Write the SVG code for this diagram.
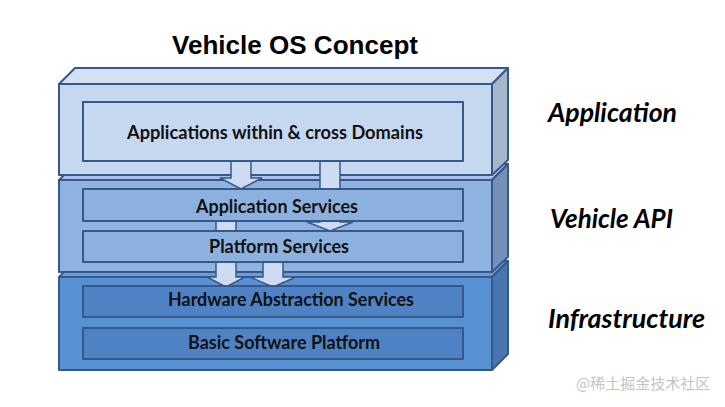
<svg xmlns="http://www.w3.org/2000/svg" width="725" height="407" viewBox="0 0 725 407">
<style>
.edge{stroke:#37598a;stroke-width:2;stroke-linejoin:round}
.arrow{fill:#cddcf1;stroke:#37598a;stroke-width:1.5;stroke-linejoin:miter}
.lbl{font-family:Lato,"Liberation Sans",sans-serif;font-weight:700;font-size:18.5px;fill:#111;text-anchor:middle}
.side{font-family:Lato,"Liberation Sans",sans-serif;font-weight:700;font-style:italic;font-size:26px;fill:#000}
.title{font-family:"Liberation Sans",Arial,sans-serif;font-weight:700;font-size:25px;fill:#000;text-anchor:middle}
</style>
<rect width="725" height="407" fill="#ffffff"/>
<text class="title" x="295" y="54" textLength="246" lengthAdjust="spacingAndGlyphs">Vehicle OS Concept</text>

<g id="layer-infrastructure">
<polygon class="edge" points="59,277 75,261 508,261 492,277" fill="#6c9cd9"/>
<polygon class="edge" points="492,277 508,261 508,354 492,370" fill="#4775b0"/>
<rect class="edge" x="59" y="277" width="433" height="93" fill="#5890d4"/>
</g>
<g id="layer-vehicle-api">
<polygon class="edge" points="59,180 75,164 508,164 492,180" fill="#a6c2e8"/>
<polygon class="edge" points="492,180 508,164 508,257 492,272" fill="#7390b8"/>
<rect class="edge" x="59" y="180" width="433" height="92" fill="#8fb3e0"/>
</g>
<g id="layer-application">
<polygon class="edge" points="59,84 75,68 508,68 492,84" fill="#d3e1f4"/>
<polygon class="edge" points="492,84 508,68 508,160 492,175" fill="#a5b5ca"/>
<rect class="edge" x="59" y="84" width="433" height="91" fill="#c6d8f0"/>
</g>

<g id="connectors">
<polygon class="arrow" points="231,160 251,160 251,178 262,178 241,189 220,178 231,178"/>
<polygon class="arrow" points="320,160 340,160 340,222 353,222 330,231 307,222 320,222"/>
<polygon class="arrow" points="216,218 236,218 236,277 245,277 226,287 207,277 216,277"/>
<polygon class="arrow" points="263,260 283,260 283,277 296,277 273,287 250,277 263,277"/>
</g>

<g id="node-applications">
<rect class="edge" x="83" y="102" width="380" height="59" fill="#c6d8f0"/>
<text class="lbl" x="275" y="139" textLength="296" lengthAdjust="spacingAndGlyphs">Applications within &amp; cross Domains</text>
</g>
<g id="node-application-services">
<rect class="edge" x="83" y="189" width="380" height="32" fill="#8db1df"/>
<text class="lbl" x="277" y="213" textLength="162" lengthAdjust="spacingAndGlyphs">Application Services</text>
</g>
<g id="node-platform-services">
<rect class="edge" x="83" y="231" width="380" height="31" fill="#8db1df"/>
<text class="lbl" x="279" y="253" textLength="140" lengthAdjust="spacingAndGlyphs">Platform Services</text>
</g>
<g id="node-hardware-abstraction">
<rect class="edge" x="83" y="286" width="380" height="31" fill="#4f82c4"/>
<text class="lbl" x="291" y="306" textLength="246" lengthAdjust="spacingAndGlyphs">Hardware Abstraction Services</text>
</g>
<g id="node-basic-software">
<rect class="edge" x="83" y="328" width="380" height="31" fill="#4f82c4"/>
<text class="lbl" x="284" y="349" textLength="192" lengthAdjust="spacingAndGlyphs">Basic Software Platform</text>
</g>

<g id="side-labels">
<text class="side" x="548" y="122" textLength="129" lengthAdjust="spacingAndGlyphs">Application</text>
<text class="side" x="550" y="228" textLength="123" lengthAdjust="spacingAndGlyphs">Vehicle API</text>
<text class="side" x="548" y="328" textLength="157" lengthAdjust="spacingAndGlyphs">Infrastructure</text>
</g>
<text x="576" y="389" font-family="'Noto Sans CJK SC',sans-serif" font-size="15" fill="#c4c4c4">@稀土掘金技术社区</text>
</svg>
